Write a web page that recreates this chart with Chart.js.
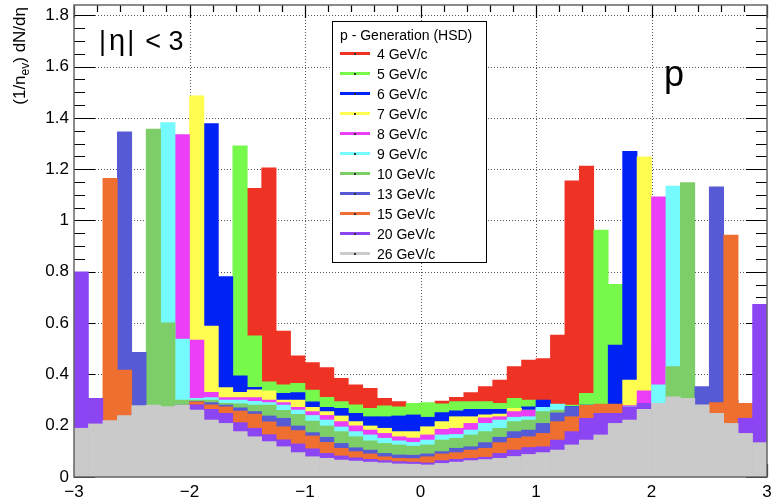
<!DOCTYPE html>
<html>
<head>
<meta charset="utf-8">
<script src="https://cdn.jsdelivr.net/npm/chart.js@4.4.1/dist/chart.umd.min.js"></script>
<style>
  body { margin: 0; background: #fff; }
  #wrap { position: relative; width: 774px; height: 502px; overflow: hidden;
          font-family: "Liberation Sans", Arial, Helvetica, sans-serif; color: #000; }
  #c { position: absolute; left: 0; top: 0; }
  .ytitle { position: absolute; left: 10px; top: 147px; width: 140px; height: 20px; line-height: 20px;
            font-size: 17px; text-align: right; white-space: nowrap;
            transform-origin: 0 0; transform: rotate(-90deg); }
  .ytitle sub { font-size: 12px; vertical-align: -4px; line-height: 0; }
  #eta { position: absolute; left: 99px; top: 27px; font-size: 27px; line-height: 27px; white-space: nowrap; }
  #eta .g { margin: 0 2px 0 3px; font-size: 29px; }
  #eta .r { margin-left: 11px; }
  #plabel { position: absolute; left: 664px; top: 56px; font-size: 36px; line-height: 36px; }
  #legend { position: absolute; left: 332px; top: 21px; width: 155px; height: 242px;
            box-sizing: border-box; border: 1px solid #000; background: #fff; }
  .lg-title { position: absolute; left: 340px; top: 25px; font-size: 14px; line-height: 20px; white-space: nowrap; }
  .lg-line { position: absolute; left: 340px; width: 30px; height: 3px; }
  .lg-dot { position: absolute; left: 354px; width: 2px; height: 2px; background: #333; }
  .lg-text { position: absolute; left: 377px; font-size: 14px; line-height: 20px; white-space: nowrap; }
</style>
</head>
<body>
<div id="wrap">
  <canvas id="c" width="774" height="502"></canvas>
  <div class="ytitle">(1/n<sub>ev</sub>) dN/dη</div>
  <div id="eta">|<span class="g">η</span>|<span class="r">&lt; 3</span></div>
  <div id="plabel">p</div>
  <div id="legend"></div>
</div>
<script>
// 48 bins of width 0.125 from -3 to 3
const BIN_LOW = -3;
const BIN_WIDTH = 0.125;

const LABELS = ["4 GeV/c", "5 GeV/c", "6 GeV/c", "7 GeV/c", "8 GeV/c", "9 GeV/c",
                "10 GeV/c", "13 GeV/c", "15 GeV/c", "20 GeV/c", "26 GeV/c"];
const COLORS = ["#ee3224", "#77f94c", "#0022f5", "#fffd50", "#ea3ff7", "#75fbfd",
                "#7dce69", "#565ad5", "#ee6f2f", "#8b45f2", "#cacaca"];

const E4 = [0,0,0,0,0,0,0,0,0,0,0,0,
  1.125,1.205,0.569,0.472,0.446,0.427,0.385,0.359,0.346,0.307,0.294,0.28,
  0.28,0.296,0.311,0.329,0.352,0.378,0.430,0.456,0.462,0.553,1.155,1.212,
  0,0,0,0,0,0,0,0,0,0,0,0];
const E5 = [0,0,0,0,0,0,0,0,0,0,
  0.5,1.291,0.55,0.371,0.359,0.365,0.339,0.311,0.294,0.281,0.268,0.277,0.274,0.287,
  0.290,0.285,0.294,0.294,0.294,0.287,0.307,0.30,0.29,0.28,0.28,0.326,0.963,0.751,
  0,0,0,0,0,0,0,0,0,0];
const E6 = [0,0,0,0,0,0,0,0,0,
  1.378,0.781,0.394,0.35,0.33,0.326,0.329,0.293,0.272,0.268,0.248,0.235,0.235,0.238,0.242,
  0.233,0.251,0.258,0.264,0.264,0.264,0.268,0.274,0.300,0.275,0.275,0.28,0.28,0.514,1.27,0.5,
  0,0,0,0,0,0,0,0];
const E7 = [0,0,0,0,0,0,0,
  0.45,1.486,0.588,0.349,0.33,0.34,0.336,0.30,0.300,0.272,0.255,0.238,0.216,0.199,0.190,0.177,0.177,
  0.196,0.216,0.235,0.235,0.242,0.245,0.268,0.261,0.27,0.27,0.27,0.275,0.275,0.28,0.378,1.248,0.4,
  0,0,0,0,0,0,0];
const E8 = [0,0,0,0,0,0,
  0.45,1.335,0.534,0.33,0.31,0.31,0.31,0.30,0.29,0.272,0.255,0.24,0.216,0.199,0.183,0.170,0.157,0.152,
  0.164,0.186,0.190,0.209,0.231,0.235,0.255,0.26,0.265,0.27,0.27,0.27,0.27,0.275,0.278,0.336,1.092,0.4,
  0,0,0,0,0,0];
const E9 = [0,0,0,0,0,
  0.5,1.382,0.538,0.307,0.31,0.30,0.30,0.295,0.29,0.28,0.261,0.24,0.222,0.195,0.177,0.164,0.151,0.141,0.135,
  0.144,0.164,0.166,0.183,0.209,0.222,0.233,0.235,0.272,0.284,0.27,0.27,0.27,0.27,0.275,0.28,0.359,1.134,0.4,
  0,0,0,0,0];
const E10 = [0,0,0,0,0,
  1.356,0.601,0.30,0.30,0.30,0.287,0.285,0.28,0.28,0.26,0.244,0.218,0.199,0.177,0.157,0.141,0.131,0.125,0.12,
  0.125,0.144,0.151,0.164,0.177,0.190,0.216,0.222,0.255,0.261,0.265,0.265,0.265,0.27,0.27,0.275,0.28,0.430,1.148,
  0,0,0,0,0];
const E13 = [0,0,
  0.3,1.346,0.486,0.27,0.27,0.28,0.295,0.29,0.28,0.27,0.255,0.238,0.229,0.199,0.173,0.155,0.131,0.114,0.105,0.092,0.086,0.085,
  0.09,0.099,0.112,0.118,0.134,0.155,0.177,0.183,0.209,0.25,0.274,0.27,0.27,0.27,0.27,0.27,0.27,0.28,0.29,0.352,1.131,0.3,
  0,0];
const E15 = [0,
  0.2,1.164,0.417,0.27,0.27,0.27,0.275,0.293,0.281,0.274,0.257,0.245,0.215,0.196,0.181,0.160,0.135,0.112,0.099,0.090,0.079,0.073,0.072,
  0.079,0.09,0.095,0.105,0.112,0.134,0.151,0.157,0.170,0.216,0.235,0.279,0.284,0.284,0.27,0.27,0.27,0.27,0.27,0.27,0.29,0.943,0.287,
  0];
const E20 = [0.8,0.307,0.2,0.22,0.25,0.26,0.26,0.265,0.281,0.264,0.248,0.212,0.19,0.165,0.145,0.129,0.11,0.092,0.082,0.075,0.069,0.064,0.060,0.058,
  0.055,0.064,0.069,0.073,0.077,0.092,0.105,0.115,0.118,0.144,0.177,0.229,0.248,0.248,0.274,0.287,0.28,0.26,0.24,0.22,0.2,0.19,0.229,0.673];
const E26 = [0.19,0.207,0.22,0.239,0.278,0.28,0.275,0.28,0.261,0.222,0.209,0.177,0.157,0.138,0.118,0.095,0.079,0.073,0.066,0.062,0.058,0.055,0.051,0.05,
  0.047,0.053,0.058,0.064,0.068,0.073,0.08,0.088,0.095,0.105,0.125,0.144,0.164,0.209,0.222,0.264,0.287,0.313,0.307,0.281,0.248,0.209,0.170,0.134];

const SERIES = [E4, E5, E6, E7, E8, E9, E10, E13, E15, E20, E26];

const X_TICKS = [-3, -2, -1, 0, 1, 2, 3];
const Y_TICKS = [0, 0.2, 0.4, 0.6, 0.8, 1, 1.2, 1.4, 1.6, 1.8];
const X_MINOR = 0.2;
const Y_MINOR = 0.05;

const FONT = '"Liberation Sans", Arial, Helvetica, sans-serif';

const binCenters = E4.map((_, i) => BIN_LOW + BIN_WIDTH * (i + 0.5));

// legend (HTML)
const wrap = document.getElementById("wrap");
const title = document.createElement("div");
title.className = "lg-title";
title.textContent = "p - Generation (HSD)";
wrap.appendChild(title);
LABELS.forEach((lab, i) => {
  const cy = 53.5 + 20 * i;
  const ln = document.createElement("div");
  ln.className = "lg-line";
  ln.style.top = (cy - 1.5) + "px";
  ln.style.background = COLORS[i];
  wrap.appendChild(ln);
  const dot = document.createElement("div");
  dot.className = "lg-dot";
  dot.style.top = (cy - 1) + "px";
  wrap.appendChild(dot);
  const tx = document.createElement("div");
  tx.className = "lg-text";
  tx.style.top = (cy - 10) + "px";
  tx.textContent = lab;
  wrap.appendChild(tx);
});

// ROOT-like frame: dotted grid + inward ticks under the histograms, frame on top
const rootFrame = {
  id: "rootFrame",
  beforeDatasetsDraw(chart) {
    const { ctx, chartArea: a, scales: { x, y } } = chart;
    ctx.save();
    ctx.strokeStyle = "#555";
    ctx.lineWidth = 1;
    ctx.setLineDash([1, 2]);
    ctx.beginPath();
    for (const v of X_TICKS) {
      if (v <= x.min || v >= x.max) continue;
      const px = Math.round(x.getPixelForValue(v)) + 0.5;
      ctx.moveTo(px, a.top); ctx.lineTo(px, a.bottom);
    }
    for (const v of Y_TICKS) {
      if (v <= y.min) continue;
      const py = Math.round(y.getPixelForValue(v)) + 0.5;
      ctx.moveTo(a.left, py); ctx.lineTo(a.right, py);
    }
    ctx.stroke();
    ctx.setLineDash([]);

    // ticks
    ctx.strokeStyle = "#000";
    ctx.lineWidth = 1.2;
    ctx.beginPath();
    for (let k = 0; k <= Math.round((x.max - x.min) / X_MINOR); k++) {
      const v = x.min + k * X_MINOR;
      const major = Math.abs(v - Math.round(v)) < 1e-6;
      const len = major ? 13 : 7;
      const px = Math.round(x.getPixelForValue(v)) + 0.5;
      ctx.moveTo(px, a.top); ctx.lineTo(px, a.top + len);
      ctx.moveTo(px, a.bottom); ctx.lineTo(px, a.bottom - len);
    }
    for (let k = 0; k * Y_MINOR <= y.max + 1e-9; k++) {
      const v = k * Y_MINOR;
      const major = k % 4 === 0;
      const len = major ? 21 : 11;
      const py = Math.round(y.getPixelForValue(v)) + 0.5;
      ctx.moveTo(a.left, py); ctx.lineTo(a.left + len, py);
      ctx.moveTo(a.right, py); ctx.lineTo(a.right - len, py);
    }
    ctx.stroke();
    ctx.restore();
  },
  afterDatasetsDraw(chart) {
    const { ctx, chartArea: a } = chart;
    ctx.save();
    ctx.strokeStyle = "#666";
    ctx.lineWidth = 1.5;
    ctx.strokeRect(a.left, a.top, a.right - a.left, a.bottom - a.top);
    ctx.restore();
  }
};

const fmtX = v => (v < 0 ? "\u2212" + Math.abs(v) : String(v));
const fmtY = v => String(Math.round(v * 10) / 10);

// keep the plot area fixed: no automatic padding for overhanging labels
const noPad = s => { s.paddingTop = 0; s.paddingBottom = 0; s.paddingLeft = 0; s.paddingRight = 0; };

new Chart(document.getElementById("c"), {
  type: "bar",
  data: {
    datasets: SERIES.map((vals, i) => ({
      label: LABELS[i],
      data: vals.map((v, j) => ({ x: binCenters[j], y: v })),
      backgroundColor: COLORS[i],
      borderWidth: 0,
      barPercentage: 1,
      categoryPercentage: 1,
      grouped: false,
      order: SERIES.length - i // later (higher energy) drawn on top
    }))
  },
  options: {
    responsive: false,
    animation: false,
    events: [],
    layout: { autoPadding: false, padding: { left: 0, top: 5, right: 7, bottom: 0 } },
    plugins: { legend: { display: false }, tooltip: { enabled: false } },
    scales: {
      x: {
        type: "linear",
        min: -3, max: 3,
        offset: false,
        grid: { display: false, drawTicks: false, offset: false },
        border: { display: false },
        afterBuildTicks: s => { s.ticks = X_TICKS.map(v => ({ value: v })); },
        afterFit: s => { s.height = 25; noPad(s); },
        ticks: {
          autoSkip: false, maxRotation: 0, padding: 5, color: "#000",
          font: { family: FONT, size: 17 },
          callback: v => fmtX(v)
        }
      },
      y: {
        min: 0, max: 1.84,
        grid: { display: false, drawTicks: false },
        border: { display: false },
        afterBuildTicks: s => { s.ticks = Y_TICKS.map(v => ({ value: v })); },
        afterFit: s => { s.width = 74; noPad(s); },
        ticks: {
          padding: 5, color: "#000",
          font: { family: FONT, size: 17 },
          callback: v => fmtY(v)
        }
      }
    }
  },
  plugins: [rootFrame]
});
</script>
</body>
</html>
